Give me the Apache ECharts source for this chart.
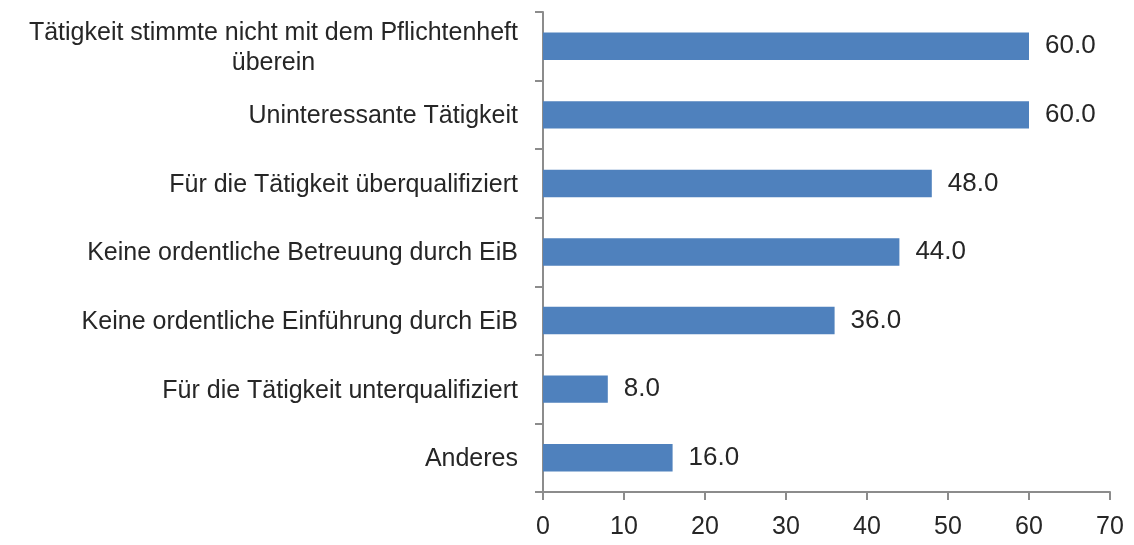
<!DOCTYPE html>
<html lang="de">
<head>
    <meta charset="UTF-8">
    <title>Gründe</title>
    <script src="https://cdnjs.cloudflare.com/ajax/libs/echarts/6.0.0/echarts.min.js"></script>
    <style>
        html, body { margin: 0; padding: 0; background: #fff; }
        #main { width: 1134px; height: 545px; }
    </style>
</head>
<body>
    <div id="main"></div>
    <script>
        // Kategorien von oben nach unten
        const categories = [
            'Tätigkeit stimmte nicht mit dem Pflichtenheft\nüberein',
            'Uninteressante Tätigkeit',
            'Für die Tätigkeit überqualifiziert',
            'Keine ordentliche Betreuung durch EiB',
            'Keine ordentliche Einführung durch EiB',
            'Für die Tätigkeit unterqualifiziert',
            'Anderes'
        ];
        const values = [60, 60, 48, 44, 36, 8, 16];
        const xTicks = [0, 70, 10]; // min, max, interval

        const chart = echarts.init(document.getElementById('main'));
        const font = 'Liberation Sans';
        const axisColor = '#8c8c8c';
        const textColor = '#262626';

        chart.setOption({
            animation: false,
            grid: { left: 543, right: 24, top: 12, bottom: 53 },
            xAxis: {
                type: 'value',
                min: xTicks[0],
                max: xTicks[1],
                interval: xTicks[2],
                axisLine: { show: true, lineStyle: { color: axisColor, width: 2 } },
                axisTick: { show: true, length: 8, lineStyle: { color: axisColor, width: 2 } },
                splitLine: { show: false },
                axisLabel: { color: textColor, fontFamily: font, fontSize: 25, margin: 23 }
            },
            yAxis: {
                type: 'category',
                inverse: true,
                data: categories,
                axisLine: { show: true, lineStyle: { color: axisColor, width: 2 } },
                axisTick: { show: true, length: 8, lineStyle: { color: axisColor, width: 2 } },
                axisLabel: {
                    margin: 25,
                    formatter: (v) => v.split('\n').map(s => '{c|' + s + '}').join('\n'),
                    rich: {
                        c: { color: textColor, fontFamily: font, fontSize: 25, lineHeight: 30, align: 'center', padding: [3, 0, 0, 0] }
                    }
                }
            },
            series: [{
                type: 'bar',
                data: values,
                barCategoryGap: '60%',
                itemStyle: { color: '#4f81bd' },
                label: {
                    show: true,
                    position: 'right',
                    distance: 16,
                    color: textColor,
                    fontFamily: font,
                    fontSize: 26,
                    formatter: (p) => p.value.toFixed(1)
                }
            }]
        });
    </script>
</body>
</html>
